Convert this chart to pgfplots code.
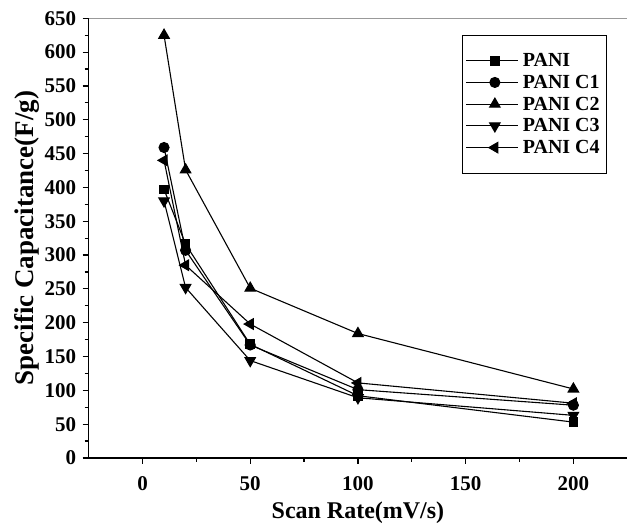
\documentclass[border=0pt]{standalone}
\usepackage{fontspec}
\setmainfont{Liberation Serif}
\usepackage{pgfplots}
\pgfplotsset{compat=1.18}
\begin{document}
\begin{tikzpicture}
\begin{axis}[
  scale only axis,
  width=539pt, height=440pt,
  xmin=-25, xmax=225, ymin=0, ymax=650,
  xtick={0,50,100,150,200},
  ytick={0,50,...,650},
  minor tick num=1,
  tick align=outside,
  major tick length=6pt, minor tick length=4pt,
  tick style={black, line width=1.2pt},
  axis x line*=bottom, axis y line*=left,
  axis line style={black, line width=1.5pt, -},
  /pgf/number format/assume math mode=true,
  ticklabel style={font=\fontsize{21}{21}\selectfont\bfseries},
  yticklabel style={xshift=-3pt},
  xticklabel style={yshift=-9pt},
  xlabel={Scan Rate(mV/s)}, ylabel={Specific Capacitance(F/g)},
  xlabel style={font=\fontsize{24}{24}\selectfont\bfseries, yshift=-4pt},
  ylabel style={font=\fontsize{27}{27}\selectfont\bfseries, yshift=-2pt},
  every axis plot/.append style={black, line width=1.1pt, mark options={solid, fill=black}},
  legend style={at={(rel axis cs:0.694,0.962)}, anchor=north west, draw=black, line width=0.8pt,
    font=\fontsize{20}{20}\selectfont\bfseries, row sep=3pt, inner xsep=3pt, inner ysep=16pt,
    legend cell align=left, nodes={inner xsep=4pt}},
  legend image code/.code={\path (0pt,0pt) -- (52pt,0pt); \draw[#1] (6pt,0pt) -- (51pt,0pt); \draw[#1, mark repeat=2, mark phase=2] plot coordinates {(6pt,0pt) (28.5pt,0pt) (51pt,0pt)};},
  legend style={/tikz/every even column/.append style={column sep=0pt}},
  clip=false,
]
\draw[gray!80, line width=1pt] (rel axis cs:0,1) -- (rel axis cs:1,1);
\addplot[mark=square*, mark size=4.3pt] coordinates {(10,397) (20,316) (50,168) (100,92) (200,53)};
\addlegendentry{PANI}
\addplot[mark=*, mark size=5pt] coordinates {(10,459) (20,307) (50,167) (100,101) (200,78)};
\addlegendentry{PANI C1}
\addplot[mark=triangle*, mark size=6pt] coordinates {(10,625) (20,426) (50,251) (100,184) (200,102)};
\addlegendentry{PANI C2}
\addplot[mark=triangle*, mark size=6pt, mark options={rotate=180}] coordinates {(10,380) (20,252) (50,144) (100,89) (200,63)};
\addlegendentry{PANI C3}
\addplot[mark=triangle*, mark size=6pt, mark options={rotate=90}] coordinates {(10,440) (20,285) (50,198) (100,111) (200,81)};
\addlegendentry{PANI C4}
\end{axis}
\path (current axis.south west) +(-88.7pt,-63.7pt) rectangle +(539.3pt,458.3pt);
\end{tikzpicture}
\end{document}
